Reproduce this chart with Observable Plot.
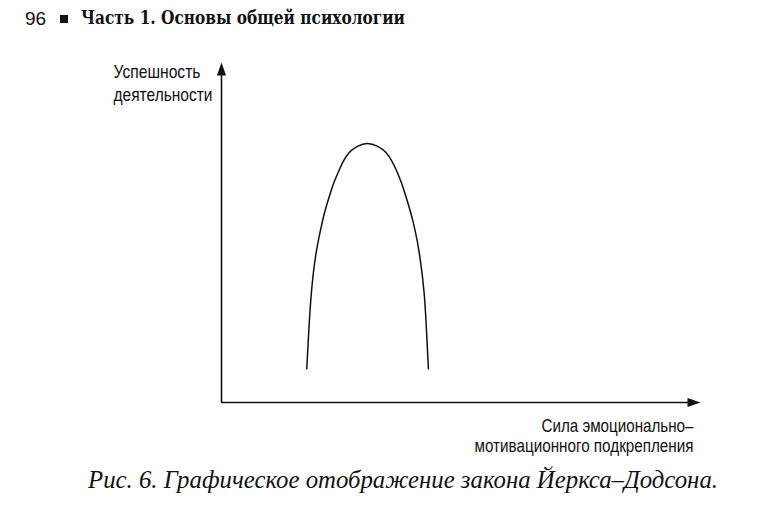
<!DOCTYPE html>
<html><head><meta charset="utf-8">
<script src="https://cdn.jsdelivr.net/npm/d3@7"></script>
<script src="https://cdn.jsdelivr.net/npm/@observablehq/plot@0.6"></script>
<style>
html,body{margin:0;padding:0;background:#fff;}
#page{position:relative;width:782px;height:507px;overflow:hidden;background:#fff;}
.line{position:absolute;white-space:nowrap;color:#111;line-height:1;transform-origin:0 0;}
#num{left:25px;top:9px;font-family:"Liberation Sans",sans-serif;font-size:19px;}
#sq{left:60px;top:15px;width:8px;height:8px;background:#111;}
#head{left:81px;top:8px;font-family:"DejaVu Serif",serif;font-weight:bold;font-size:19px;}
#chart{position:absolute;left:0;top:40px;}
#caption{left:88px;top:467px;font-family:"Liberation Serif",serif;font-style:italic;font-size:25px;}
</style></head>
<body><div id="page">
<div id="num" class="line">96</div>
<div id="sq" class="line"></div>
<div id="head" class="line">Часть 1. Основы общей психологии</div>
<div id="chart"></div>
<div id="caption" class="line">Рис. 6. Графическое отображение закона Йеркса–Додсона.</div>
</div>
<script>
// Curve (arbitrary units, 0–100 on both axes)
const arousal     = [17.8, 18.1, 18.7, 19.7, 20.6, 21.5, 22.8, 23.5, 24.4, 25.3, 26.6, 28.3, 30.4,
                     32.7, 34.4, 35.7, 36.7, 37.5, 38.2, 39.5, 40.5, 41.3, 42.4, 42.9, 43.2];
const performance = [ 9.9, 18.1, 32.8, 44.4, 50.3, 56.1, 62.0, 64.9, 67.8, 70.8, 73.7, 75.4, 76.6,
                     75.4, 73.7, 70.8, 67.8, 64.9, 62.0, 56.1, 50.3, 44.4, 32.8, 18.1,  9.9];
const yLabelLines = ["Успешность", "деятельности"];
const xLabelLines = ["Сила эмоционально–", "мотивационного подкрепления"];

const curve = arousal.map((x, i) => ({x, y: performance[i]}));

const arrowHead = {draw(ctx) { ctx.moveTo(0, 0); ctx.lineTo(4.6, 13); ctx.lineTo(-4.6, 13); ctx.closePath(); }};
const labelStyle = {fontSize: 18.5, fontFamily: "Liberation Sans, Arial, sans-serif", fill: "#111", lineAnchor: "bottom"};

const chart = Plot.plot({
  width: 782, height: 420,
  marginLeft: 221, marginRight: 82, marginTop: 22, marginBottom: 58,
  x: {domain: [0, 100], axis: null},
  y: {domain: [0, 100], axis: null},
  style: {background: "transparent"},
  marks: [
    Plot.ruleX([0], {y1: 0, y2: 97, stroke: "#111", strokeWidth: 1.6}),
    Plot.ruleY([0], {x1: 0, x2: 98, stroke: "#111", strokeWidth: 1.6}),
    Plot.dot([0], {x: () => 0, y: () => 100, symbol: arrowHead, fill: "#111", stroke: "none"}),
    Plot.dot([0], {x: () => 100, y: () => 0, symbol: arrowHead, fill: "#111", stroke: "none", rotate: 90}),
    Plot.line(curve, {x: "x", y: "y", curve: "basis", stroke: "#111", strokeWidth: 1.5}),
    Plot.text([yLabelLines[0]], {x: () => 0, y: () => 100, text: d => d, dx: -108, dy: 15, textAnchor: "start", ...labelStyle}),
    Plot.text([yLabelLines[1]], {x: () => 0, y: () => 100, text: d => d, dx: -108, dy: 38, textAnchor: "start", ...labelStyle}),
    Plot.text([xLabelLines[0]], {x: () => 100, y: () => 0, text: d => d, dx: -7, dy: 29.5, textAnchor: "end", ...labelStyle}),
    Plot.text([xLabelLines[1]], {x: () => 100, y: () => 0, text: d => d, dx: -7, dy: 49.5, textAnchor: "end", ...labelStyle})
  ]
});
document.getElementById("chart").appendChild(chart);

// the reference uses a narrow sans for the axis titles: squeeze the glyphs to the widths they take there
const labelWidths = new Map([[yLabelLines[0], 87], [yLabelLines[1], 99], [xLabelLines[0], 152], [xLabelLines[1], 219]]);
chart.querySelectorAll("text").forEach(t => {
  const w = labelWidths.get(t.textContent);
  if (w) { t.setAttribute("textLength", w); t.setAttribute("lengthAdjust", "spacingAndGlyphs"); }
});

// scale header and caption text to the widths they take in the reference
function fit(id, target) {
  const el = document.getElementById(id);
  const w = el.getBoundingClientRect().width;
  el.style.transform = `scaleX(${target / w})`;
}
fit("head", 324);
fit("caption", 630);
</script>
</body></html>
